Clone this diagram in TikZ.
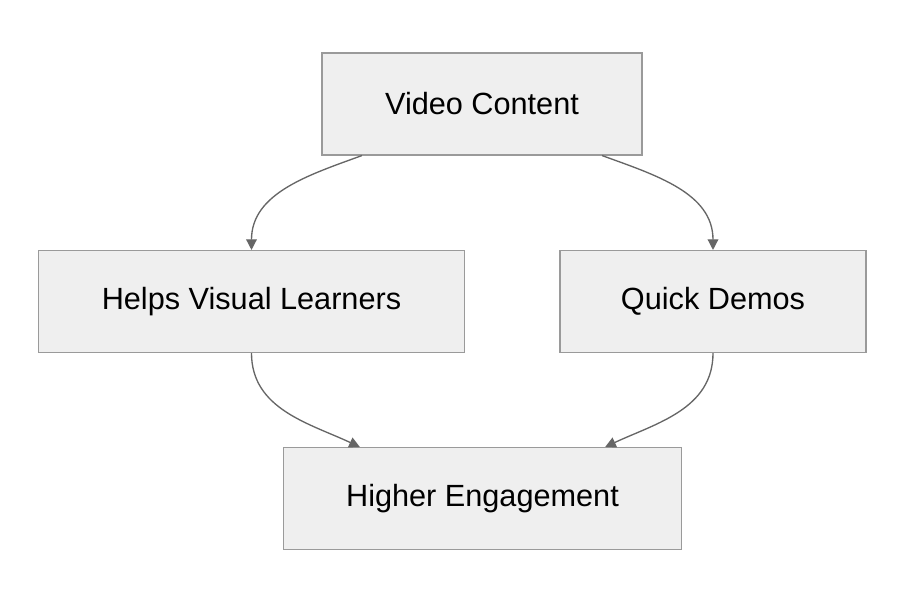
\documentclass[tikz,border=0pt]{standalone}
\usepackage{fontspec}
\setmainfont{Liberation Sans}
\usetikzlibrary{positioning,arrows.meta}
\definecolor{boxfill}{HTML}{EFEFEF}
\definecolor{boxline}{HTML}{9A9A9A}
\definecolor{edge}{HTML}{666666}
\begin{document}
\begin{tikzpicture}[x=0.75pt, y=-0.75pt,
    box/.style = {draw=boxline, fill=boxfill, line width=0.8pt, minimum height=76.5pt, font=\fontsize{23}{26}\selectfont},
    link/.style = {draw=edge, line width=1pt, -{Triangle[length=8pt,width=8pt]}}]
    \useasboundingbox (0,0) rectangle (904,604);
        \node[box, minimum width=240pt] (video) at (482,104) {Video Content};
        \node[box, minimum width=320pt] (visual) at (251.5,301.5) {Helps Visual Learners};
        \node[box, minimum width=229.5pt] (demos) at (713,301.5) {Quick Demos};
        \node[box, minimum width=299pt] (engage) at (482.5,498.5) {Higher Engagement};
        \draw[link] ([xshift=-90pt]video.south) to[out=-160, in=90] (visual.north);
        \draw[link] ([xshift=90pt]video.south) to[out=-20, in=90] (demos.north);
        \draw[link] (visual.south) to[out=-90, in=155] ([xshift=-92pt]engage.north);
        \draw[link] (demos.south) to[out=-90, in=25] ([xshift=92pt]engage.north);
    \end{tikzpicture}
\end{document}
